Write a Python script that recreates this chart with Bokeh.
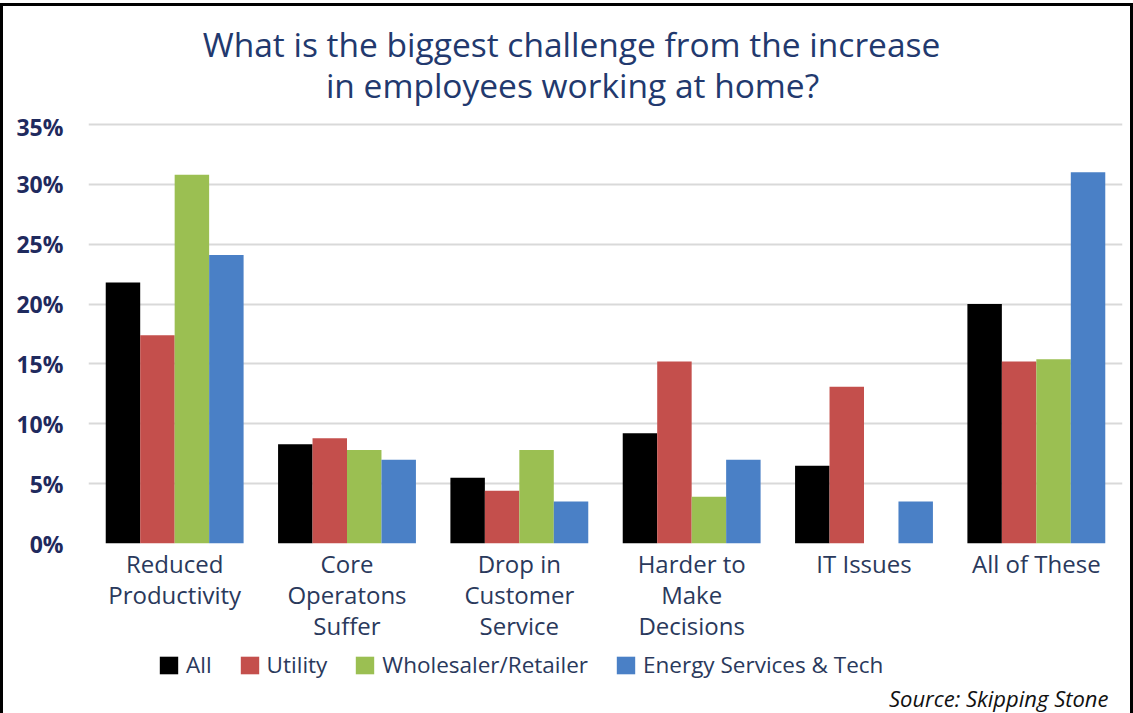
from bokeh.plotting import figure
from bokeh.layouts import column
from bokeh.models import (ColumnDataSource, FactorRange, FixedTicker, PrintfTickFormatter,
                          Legend, LegendItem, Label)
from bokeh.transform import dodge
from bokeh.embed import file_html
from bokeh.resources import INLINE

# Survey answers (percent of respondents)
categories = ["Reduced\nProductivity", "Core\nOperatons\nSuffer", "Drop in\nCustomer\nService",
              "Harder to\nMake\nDecisions", "IT Issues", "All of These"]
all_resp = [21.8, 8.3, 5.5, 9.2, 6.5, 20.0]
utility = [17.4, 8.8, 4.4, 15.2, 13.1, 15.2]
wholesaler = [30.8, 7.8, 7.8, 3.9, 0.0, 15.4]
energy_services = [24.1, 7.0, 3.5, 7.0, 3.5, 31.0]

series_names = ["All", "Utility", "Wholesaler/Retailer", "Energy Services & Tech"]
series_keys = ["all", "utility", "wholesaler", "energy"]
series_colors = ["#000000", "#c44f4c", "#9bbf52", "#4a80c6"]
offsets = [-0.3, -0.1, 0.1, 0.3]

y_ticks = [0, 5, 10, 15, 20, 25, 30, 35]

title_lines = ["What is the biggest challenge from the increase", "in employees working at home?"]
source_note = "Source: Skipping Stone"

FONT = "Open Sans"
NAVY = "#1f2a5e"
TITLE_BLUE = "#22396e"
LABEL_NAVY = "#2a395c"
W = 1127


def blank(height):
    f = figure(width=W, height=height, output_backend="svg", toolbar_location=None,
               x_axis_type=None, y_axis_type=None, min_border=0, title=None,
               x_range=(0, 1), y_range=(0, 1))
    f.outline_line_color = None
    f.grid.visible = False
    return f


# heading (the column lines its frame up with the chart's frame)
head = blank(104)
for txt, x, y in zip(title_lines, (483, 484), (67, 26)):
    head.add_layout(Label(x=x, y=y, x_units="screen", y_units="screen", text=txt,
                          text_align="center", text_baseline="alphabetic", text_font=FONT,
                          text_font_size="33.5px", text_color=TITLE_BLUE))

# grouped bars
source = ColumnDataSource(dict(cat=categories, all=all_resp, utility=utility,
                               wholesaler=wholesaler, energy=energy_services))
p = figure(x_range=FactorRange(*categories, range_padding=0), y_range=(0, 36),
           width=W, height=535, output_backend="svg", toolbar_location=None,
           min_border_left=85, min_border_right=8, min_border_top=2, min_border_bottom=102,
           title=None)
p.outline_line_color = None
for key, color, off in zip(series_keys, series_colors, offsets):
    p.vbar(x=dodge("cat", off, range=p.x_range), top=key, width=0.2, source=source,
           fill_color=color, line_color=None)

p.xgrid.grid_line_color = None
p.ygrid.grid_line_color = "#d9d9d9"
p.ygrid.grid_line_width = 2
p.yaxis.ticker = FixedTicker(ticks=y_ticks)
p.yaxis.formatter = PrintfTickFormatter(format="%d%%")
for ax in (p.xaxis[0], p.yaxis[0]):
    ax.axis_line_color = None
    ax.major_tick_line_color = None
    ax.minor_tick_line_color = None
    ax.major_tick_out = 0
    ax.major_tick_in = 0
    ax.major_label_text_font = FONT
p.yaxis.major_label_text_font_size = "23px"
p.yaxis.major_label_text_font_style = "bold"
p.yaxis.major_label_text_color = NAVY
p.yaxis.major_label_standoff = 25
p.xaxis.major_label_text_font_size = "24px"
p.xaxis.major_label_text_color = LABEL_NAVY
p.xaxis.major_label_text_line_height = 0.95
p.xaxis.major_label_standoff = 3

# legend and source line
foot = blank(68)
keys = []
for color in series_colors:
    # swatch renderers for the legend (zero-height bars)
    keys.append(foot.vbar(x=[0.5], top=[0], bottom=[0], width=0.2, fill_color=color,
                          line_color=None))
legend = Legend(items=[LegendItem(label=n, renderers=[r]) for n, r in zip(series_names, keys)],
                orientation="horizontal", location=(69, 33),
                label_text_font=FONT, label_text_font_size="22.5px", label_text_color=LABEL_NAVY,
                glyph_width=23, glyph_height=22, label_standoff=6, spacing=26,
                padding=0, margin=0, border_line_color=None, background_fill_alpha=0)
foot.add_layout(legend, "center")
foot.add_layout(Label(x=1020, y=16, x_units="screen", y_units="screen", text=source_note,
                      text_align="right", text_baseline="alphabetic", text_font=FONT,
                      text_font_style="italic", text_font_size="22px", text_color="#111111"))

page = column(head, p, foot, spacing=0,
              styles={"border-left": "3px solid black", "border-top": "3px solid black",
                      "border-right": "3px solid black", "margin-top": "3px"})

open("out.html", "w").write(file_html(page, INLINE))
